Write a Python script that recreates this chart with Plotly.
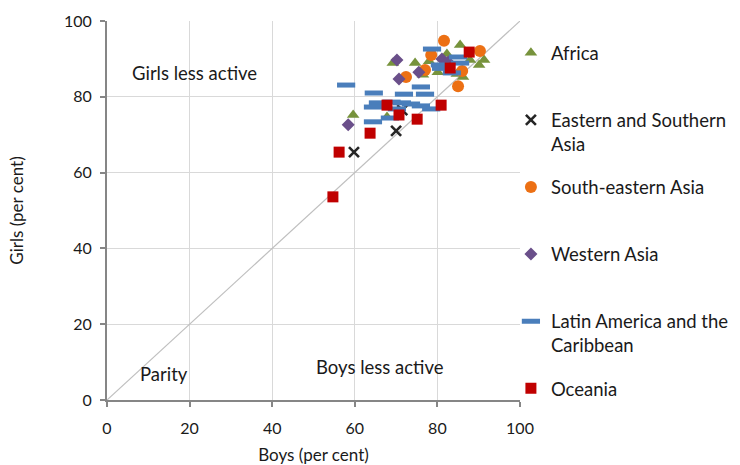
import plotly.graph_objects as go

# ---- data (boys %, girls %) ----
africa_x = [85.5, 69.2, 74.6, 78.0, 82.3, 87.9, 91.3, 90.1, 80.1, 76.5, 84.7, 86.2, 59.6, 67.8]
africa_y = [93.7, 88.9, 88.9, 89.4, 91.3, 89.7, 89.7, 88.4, 86.5, 85.8, 86.0, 85.2, 75.2, 74.7]

esasia_x = [59.8, 70.0, 71.5]
esasia_y = [65.4, 71.0, 76.5]

seasia_x = [81.6, 90.3, 78.5, 77.0, 72.4, 86.0, 85.0]
seasia_y = [94.8, 92.1, 91.0, 87.1, 85.2, 86.8, 82.8]

wasia_x = [70.2, 75.5, 70.7, 81.1, 82.6, 58.4]
wasia_y = [89.7, 86.5, 84.7, 90.0, 89.2, 72.6]

latam_x = [57.9, 64.6, 71.9, 76.0, 77.0, 78.7, 85.0, 85.5, 80.6, 83.5, 65.6, 64.4,
           71.4, 73.6, 76.0, 78.5, 70.2, 64.4, 68.5, 68.9, 80.9]
latam_y = [83.1, 81.0, 80.7, 82.6, 80.7, 92.6, 90.5, 88.9, 88.4, 86.3, 78.4, 77.3,
           78.4, 78.1, 77.6, 76.8, 76.8, 73.4, 74.4, 78.6, 87.5]

oceania_x = [54.7, 56.2, 63.7, 67.8, 70.7, 75.1, 80.9, 87.7, 83.1]
oceania_y = [53.6, 65.4, 70.4, 77.8, 75.2, 74.1, 77.8, 91.8, 87.6]

parity_x = [0, 100]
parity_y = [0, 100]

series_names = ["Africa", "Eastern and Southern<br>Asia", "South-eastern Asia",
                "Western Asia", "Latin America and the<br>Caribbean", "Oceania"]

tick_vals = [0, 20, 40, 60, 80, 100]
tick_text = ["0", "20", "40", "60", "80", "100"]

FONT = "Lato"
TXT = "#1a1a1a"

fig = go.Figure()

fig.add_trace(go.Scatter(x=parity_x, y=parity_y, mode="lines",
                         line=dict(color="#bfbfbf", width=1.2),
                         showlegend=False, hoverinfo="skip"))

def name2(n):
    return n if "<br>" in n else n + "<br> "

fig.add_trace(go.Scatter(x=africa_x, y=africa_y, mode="markers", name=name2(series_names[0]),
                         legendgroup="a",
                         marker=dict(symbol="triangle-up", size=11, color="#77933c")))
fig.add_trace(go.Scatter(x=esasia_x, y=esasia_y, mode="markers", name=name2(series_names[1]),
                         legendgroup="b",
                         marker=dict(symbol="x-thin", size=10, color="#262626",
                                     line=dict(width=2.6, color="#262626"))))
fig.add_trace(go.Scatter(x=seasia_x, y=seasia_y, mode="markers", name=name2(series_names[2]),
                         legendgroup="c",
                         marker=dict(symbol="circle", size=12, color="#ec7014")))
fig.add_trace(go.Scatter(x=wasia_x, y=wasia_y, mode="markers", name=name2(series_names[3]),
                         legendgroup="d",
                         marker=dict(symbol="diamond", size=10, color="#6a4f8a")))
fig.add_trace(go.Scatter(x=latam_x, y=latam_y, mode="markers", name=name2(series_names[4]),
                         legendgroup="e",
                         marker=dict(symbol="line-ew", size=13, color="#4a7ebb",
                                     line=dict(width=5, color="#4a7ebb"))))
fig.add_trace(go.Scatter(x=oceania_x, y=oceania_y, mode="markers", name=name2(series_names[5]),
                         legendgroup="f",
                         marker=dict(symbol="square", size=11, color="#c00000")))

annots = [
    dict(x=21.3, y=86.3, text="Girls less active"),
    dict(x=66.1, y=8.7, text="Boys less active"),
    dict(x=13.8, y=6.9, text="Parity"),
]
for a in annots:
    fig.add_annotation(x=a["x"], y=a["y"], text=a["text"], showarrow=False,
                       xanchor="center", yanchor="middle",
                       font=dict(family=FONT, size=18.5, color=TXT))

axis_common = dict(range=[0, 100], tickvals=tick_vals, ticktext=tick_text,
                   showgrid=True, gridcolor="#d9d9d9", gridwidth=1,
                   showline=True, linecolor="#868686", linewidth=2,
                   ticks="outside", ticklen=5, tickcolor="#868686", tickwidth=2,
                   zeroline=False, fixedrange=True, automargin=False,
                   tickfont=dict(family=FONT, size=16, color=TXT))

fig.update_xaxes(**axis_common, ticklabelstandoff=8,
                 title=dict(text="Boys (per cent)", standoff=15,
                            font=dict(family=FONT, size=17, color=TXT)))
fig.update_yaxes(**axis_common, ticklabelstandoff=5,
                 title=dict(text="Girls (per cent)", standoff=36,
                            font=dict(family=FONT, size=17, color=TXT)))

fig.update_layout(
    width=740, height=465,
    margin=dict(l=107, r=220, t=21, b=65, autoexpand=False),
    paper_bgcolor="white", plot_bgcolor="white",
    legend=dict(x=0.978, xanchor="left", y=0.965, yanchor="top",
                traceorder="grouped", tracegroupgap=16, valign="top",
                itemwidth=30, maxheight=460,
                font=dict(family=FONT, size=18.5, color=TXT),
                bgcolor="rgba(0,0,0,0)"),
)

fig.write_html("out.html")
